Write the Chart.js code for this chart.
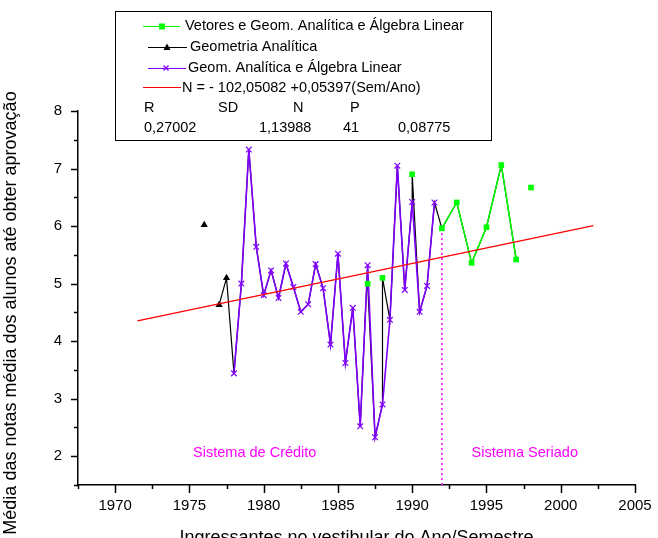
<!DOCTYPE html>
<html>
<head>
<meta charset="utf-8">
<script src="https://cdn.jsdelivr.net/npm/chart.js@4/dist/chart.umd.min.js"></script>
<style>
  html, body { margin: 0; padding: 0; background: #fff; }
  canvas { display: block; }
</style>
</head>
<body>
<canvas id="chart" width="658" height="538"></canvas>
<script>
// Geometria Analítica (null = semestre sem turma)
const gaYears  = [1976, 1976.5, 1977, 1977.5];
const gaValues = [6.02, null, 4.63, 5.10];

// Geom. Analítica e Álgebra Linear
const galYears  = [1978, 1978.5, 1979, 1979.5, 1980, 1980.5, 1981, 1981.5, 1982, 1982.5,
                   1983, 1983.5, 1984, 1984.5, 1985, 1985.5, 1986, 1986.5, 1987, 1987.5,
                   1988, 1988.5, 1989, 1989.5, 1990, 1990.5, 1991, 1991.5];
const galValues = [3.44, 5.00, 7.33, 5.64, 4.80, 5.23, 4.75, 5.35, 4.94, 4.51,
                   4.64, 5.34, 4.92, 3.94, 5.52, 3.62, 4.58, 2.52, 5.32, 2.33,
                   2.90, 4.37, 7.05, 4.89, 6.42, 4.51, 4.96, 6.41];

// Vetores e Geom. Analítica e Álgebra Linear
const vgaYears  = [1987, 1987.5, 1988, 1988.5, 1990, 1990.5, 1992, 1993, 1994, 1995, 1996, 1997, 1997.5, 1998];
const vgaValues = [5.00, null, 5.10, null, 6.90, null, 5.96, 6.41, 5.36, 5.98, 7.06, 5.42, null, 6.67];

// Ajuste linear sobre as 41 médias
const fitIntercept = -102.05082;
const fitSlope = 0.05397;
const fitYears = [1971.5, 2002.2];
const fitLabel = 'N = - 102,05082 +0,05397(Sem/Ano)';
const statNames  = ['R', 'SD', 'N', 'P'];
const statValues = ['0,27002', '1,13988', '41', '0,08775'];

// Mudança do sistema de crédito para o seriado
const changeYear = 1992;

// Eixos
const xTickLabels = [1970, 1975, 1980, 1985, 1990, 1995, 2000, 2005];
const yTickLabels = [2, 3, 4, 5, 6, 7, 8];
const xRange = [1967.5, 2005];
const yRange = [1.5, 8];

const seriesNames = [
  'Vetores e Geom. Analítica e Álgebra Linear',
  'Geometria Analítica',
  'Geom. Analítica e Álgebra Linear'
];

const FONT = "'Liberation Sans', Arial, Helvetica, sans-serif";
const GREEN = '#00ff00', BLACK = '#000000', PURPLE = '#8000ff', RED = '#ff0000', MAGENTA = '#ff00ff';

const toPoints = (xs, ys) => xs.map((x, i) => ({ x, y: ys[i] }));

// Linha preta: todas as médias em ordem cronológica; quebra apenas em semestres vazios
const rows = [];
[[gaYears, gaValues], [galYears, galValues], [vgaYears, vgaValues]].forEach(([xs, ys]) =>
  xs.forEach((x, i) => rows.push({ x, y: ys[i] })));
rows.sort((a, b) => a.x - b.x);
const observed = new Set(rows.filter(r => r.y !== null).map(r => r.x));
const allPoints = rows.filter(r => r.y !== null || !observed.has(r.x));

const fitPoints = fitYears.map(x => ({ x, y: fitIntercept + fitSlope * x }));
const changeValue = vgaValues[vgaYears.indexOf(changeYear)];
const dividerPoints = [{ x: changeYear, y: yRange[0] }, { x: changeYear, y: changeValue }];

const decorations = {
  id: 'decorations',
  afterDraw(chart) {
    const { ctx, chartArea: a, scales: { x, y } } = chart;
    ctx.save();

    // marcas dos eixos (principais e secundárias)
    ctx.strokeStyle = '#000';
    ctx.lineWidth = 1.5;
    ctx.beginPath();
    for (let v = xRange[0]; v <= xRange[1] + 1e-9; v += 2.5) {
      const px = Math.round(x.getPixelForValue(v)) + 0.5;
      const len = (v % 5 === 0) ? 8 : 4;
      ctx.moveTo(px, a.bottom); ctx.lineTo(px, a.bottom + len);
    }
    for (let v = yRange[0]; v <= yRange[1] + 1e-9; v += 0.5) {
      const py = Math.round(y.getPixelForValue(v)) + 0.5;
      const len = (v % 1 === 0) ? 7 : 4;
      ctx.moveTo(a.left, py); ctx.lineTo(a.left - len, py);
    }
    ctx.stroke();

    // títulos dos eixos
    ctx.fillStyle = '#000';
    ctx.font = '18px ' + FONT;
    ctx.textAlign = 'center';
    ctx.textBaseline = 'alphabetic';
    ctx.fillText('Ingressantes no vestibular do Ano/Semestre', (a.left + a.right) / 2, 543);
    ctx.save();
    ctx.translate(16, 313);
    ctx.rotate(-Math.PI / 2);
    ctx.fillText('Média das notas média dos alunos até obter aprovação', 0, 0);
    ctx.restore();

    // períodos
    ctx.fillStyle = MAGENTA;
    ctx.font = '14.5px ' + FONT;
    ctx.textAlign = 'left';
    ctx.textBaseline = 'middle';
    ctx.fillText('Sistema de Crédito', x.getPixelForValue(1975.25), y.getPixelForValue(2.06));
    ctx.fillText('Sistema Seriado', x.getPixelForValue(1994), y.getPixelForValue(2.06));

    // legenda
    const bx = 115.5, by = 11.5, bw = 376, bh = 129;
    ctx.fillStyle = '#fff';
    ctx.fillRect(bx, by, bw, bh);
    ctx.strokeStyle = '#000';
    ctx.lineWidth = 1;
    ctx.strokeRect(bx, by, bw, bh);

    const sample = (x0, x1, yy, color) => {
      ctx.strokeStyle = color; ctx.lineWidth = 1;
      ctx.beginPath(); ctx.moveTo(x0, yy + 0.5); ctx.lineTo(x1, yy + 0.5); ctx.stroke();
    };
    // verde
    sample(143, 180, 26, GREEN);
    ctx.fillStyle = GREEN; ctx.fillRect(159, 23.5, 6, 6);
    // preto
    sample(148, 187, 47, BLACK);
    ctx.fillStyle = BLACK;
    ctx.beginPath(); ctx.moveTo(167, 43.5); ctx.lineTo(170.5, 50); ctx.lineTo(163.5, 50); ctx.closePath(); ctx.fill();
    // roxo
    sample(148, 186, 68, PURPLE);
    ctx.strokeStyle = PURPLE; ctx.lineWidth = 1.2;
    ctx.beginPath(); ctx.moveTo(163.5, 65.5); ctx.lineTo(168.5, 70.5); ctx.moveTo(168.5, 65.5); ctx.lineTo(163.5, 70.5); ctx.stroke();
    // vermelho
    sample(143, 181, 87, RED);

    ctx.fillStyle = '#000';
    ctx.font = '14.5px ' + FONT;
    ctx.textAlign = 'left';
    ctx.textBaseline = 'middle';
    ctx.fillText(seriesNames[0], 185, 26);
    ctx.fillText(seriesNames[1], 190, 47);
    ctx.fillText(seriesNames[2], 188, 68);
    ctx.fillText(fitLabel, 182, 87.5);
    const statX = [144, 218, 293, 350];
    const valX = [144, 259, 343, 398];
    statNames.forEach((s, i) => ctx.fillText(s, statX[i], 108));
    statValues.forEach((s, i) => ctx.fillText(s, valX[i], 128));

    ctx.restore();
  }
};

new Chart(document.getElementById('chart'), {
  type: 'line',
  data: {
    datasets: [
      {
        label: fitLabel, data: fitPoints,
        borderColor: RED, borderWidth: 1.2, pointRadius: 0
      },
      {
        label: seriesNames[0], data: toPoints(vgaYears, vgaValues),
        borderColor: GREEN, borderWidth: 1.5,
        pointStyle: 'rect', pointRadius: 4, pointBackgroundColor: GREEN, pointBorderColor: GREEN, pointBorderWidth: 0
      },
      {
        label: seriesNames[1], data: toPoints(gaYears, gaValues), showLine: false,
        pointStyle: 'triangle', pointRadius: 4.2, pointBackgroundColor: BLACK, pointBorderColor: BLACK, pointBorderWidth: 0
      },
      {
        label: seriesNames[2], data: toPoints(galYears, galValues),
        borderColor: PURPLE, borderWidth: 1.6,
        pointStyle: 'crossRot', pointRadius: 4, pointBorderColor: PURPLE, pointBorderWidth: 1.2
      },
      {
        label: 'todas', data: allPoints,
        borderColor: BLACK, borderWidth: 1.2, pointRadius: 0
      },
      {
        label: 'divisor', data: dividerPoints,
        borderColor: MAGENTA, borderWidth: 1.5, borderDash: [2, 3], pointRadius: 0
      }
    ]
  },
  options: {
    responsive: false,
    animation: false,
    devicePixelRatio: 1,
    spanGaps: false,
    layout: { padding: { top: 111, right: 23, left: 0, bottom: 0 } },
    plugins: { legend: { display: false }, tooltip: { enabled: false } },
    elements: { line: { tension: 0, fill: false } },
    scales: {
      x: {
        type: 'linear', min: xRange[0], max: xRange[1],
        afterBuildTicks: s => { s.ticks = xTickLabels.map(v => ({ value: v })); },
        afterFit: s => { s.height = 53; s.paddingLeft = 0; s.paddingRight = 0; },
        grid: { display: true, drawOnChartArea: false, drawTicks: false },
        border: { display: true, color: '#000', width: 1.5 },
        ticks: {
          font: { family: FONT, size: 15 }, color: '#000', padding: 12, maxRotation: 0, autoSkip: false,
          callback: v => String(v)
        }
      },
      y: {
        type: 'linear', min: yRange[0], max: yRange[1],
        afterBuildTicks: s => { s.ticks = yTickLabels.map(v => ({ value: v })); },
        afterFit: s => { s.width = 78; s.paddingTop = 0; s.paddingBottom = 0; },
        grid: { display: true, drawOnChartArea: false, drawTicks: false },
        border: { display: true, color: '#000', width: 1.5 },
        ticks: { font: { family: FONT, size: 15 }, color: '#000', padding: 16, callback: v => String(v) }
      }
    }
  },
  plugins: [decorations]
});
</script>
</body>
</html>
